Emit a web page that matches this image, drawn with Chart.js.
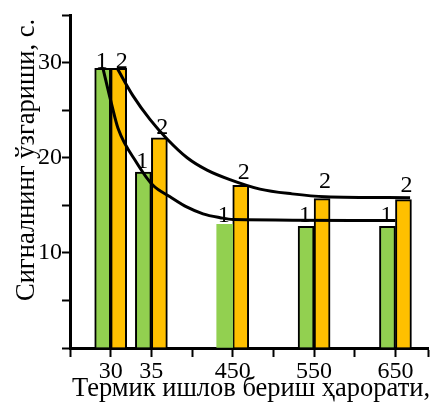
<!DOCTYPE html>
<html>
<head>
<meta charset="utf-8">
<script src="https://cdn.jsdelivr.net/npm/chart.js@4.4.1/dist/chart.umd.min.js"></script>
<style>
  html, body { margin: 0; padding: 0; background: #fff; }
  #wrap { width: 430px; height: 402px; }
</style>
</head>
<body>
<div id="wrap"><canvas id="chart" width="430" height="402"></canvas></div>
<script>
// температура (x ўқидаги жойи билан)
const categories = ['30', '35', '450', '550', '650'];
const categoryPos = [1, 2, 4, 6, 8];

// сигнал ўзгариши, с.
const seriesNames = ['1', '2'];
const series1 = [29.4, 18.5, 13.0, 12.8, 12.8];
const series2 = [29.4, 22.1, 17.1, 15.7, 15.6];

// тренд эгри чизиқлари
const curve1X = [0.81, 1.03, 1.18, 1.65, 2.04, 2.46, 2.88, 3.27, 3.69, 4.01, 8.0];
const curve1Y = [29.4, 25.5, 23.1, 19.4, 17.1, 15.9, 14.8, 14.1, 13.7, 13.5, 13.4];
const curve2X = [1.16, 1.55, 1.97, 2.38, 2.88, 3.37, 3.93, 4.67, 5.46, 6.27, 8.36];
const curve2Y = [29.4, 26.5, 24.0, 22.0, 20.0, 18.7, 17.7, 16.7, 16.2, 15.9, 15.8];

const yTickLabels = [10, 20, 30];
const xTitle = 'Термик ишлов бериш ҳарорати,';
const yTitle = 'Сигналнинг ўзгариши, с.';

const FONT = '"Liberation Serif", "Times New Roman", serif';
const GREEN = '#92D050';
const ORANGE = '#FFC000';

// рақамлар устунлар устида қанча кўтарилади (px)
const labelLift = [[0, 4, 2, 4, 4], [0, 4, 6, 11, 8]];
const labelShift = [-1, 3];

const toPoints = (xs, ys) => xs.map((x, i) => ({ x: x, y: ys[i] }));
const toBars = vals => vals.map((v, i) => ({ x: categoryPos[i], y: v }));

const annotate = {
    id: 'annotate',
    afterDatasetsDraw(chart) {
        const ctx = chart.ctx;
        ctx.save();
        ctx.fillStyle = '#000';
        ctx.font = '24px ' + FONT;
        ctx.textAlign = 'center';
        ctx.textBaseline = 'alphabetic';
        [2, 3].forEach((di, s) => {
            chart.getDatasetMeta(di).data.forEach((bar, i) => {
                ctx.fillText(seriesNames[s], bar.x + labelShift[s], bar.y - labelLift[s][i]);
            });
        });
        ctx.restore();
    },
    afterDraw(chart) {
        const ctx = chart.ctx;
        const area = chart.chartArea;
        ctx.save();
        ctx.fillStyle = '#000';
        ctx.font = '26.5px ' + FONT;
        ctx.textBaseline = 'alphabetic';
        ctx.textAlign = 'left';
        ctx.fillText(xTitle, area.left + 2, 396);
        ctx.translate(34, 301);
        ctx.rotate(-Math.PI / 2);
        ctx.fillText(yTitle, 0, 0);
        ctx.restore();
    }
};

const lineStyle = {
    type: 'line',
    borderColor: '#000',
    borderWidth: 3,
    pointRadius: 0,
    fill: false,
    cubicInterpolationMode: 'monotone',
    order: 0
};

new Chart(document.getElementById('chart'), {
    type: 'bar',
    data: {
        datasets: [
            Object.assign({ data: toPoints(curve1X, curve1Y) }, lineStyle),
            Object.assign({ data: toPoints(curve2X, curve2Y) }, lineStyle),
            {
                label: seriesNames[0],
                data: toBars(series1),
                backgroundColor: GREEN,
                borderColor: '#000',
                borderWidth: [2, 2, 0, 2, 2],
                barThickness: 16,
                order: 1
            },
            {
                label: seriesNames[1],
                data: toBars(series2),
                backgroundColor: ORANGE,
                borderColor: '#000',
                borderWidth: 2,
                barThickness: 16,
                order: 1
            }
        ]
    },
    options: {
        responsive: false,
        devicePixelRatio: 1,
        animation: false,
        layout: { padding: { top: 15, right: 2, left: 0, bottom: 0 } },
        plugins: {
            legend: { display: false },
            tooltip: { enabled: false }
        },
        scales: {
            x: {
                type: 'linear',
                min: 0,
                max: 8.8,
                offset: false,
                afterBuildTicks(scale) {
                    const ticks = [];
                    for (let v = 0; v <= 8; v++) ticks.push({ value: v });
                    ticks.push({ value: scale.max });
                    scale.ticks = ticks;
                },
                ticks: {
                    autoSkip: false,
                    maxRotation: 0,
                    padding: 0,
                    color: '#000',
                    font: { family: FONT, size: 24 },
                    callback: v => {
                        const i = categoryPos.indexOf(v);
                        return i >= 0 ? categories[i] : '';
                    }
                },
                grid: {
                    offset: false,
                    drawOnChartArea: false,
                    drawTicks: true,
                    tickLength: 9,
                    tickWidth: 2,
                    tickColor: '#000'
                },
                border: { display: true, color: '#000', width: 3 },
                afterFit(scale) { scale.height = 54; }
            },
            y: {
                min: 0,
                max: 35,
                ticks: {
                    stepSize: 5,
                    padding: 0,
                    color: '#000',
                    font: { family: FONT, size: 24 },
                    callback: v => yTickLabels.includes(v) ? String(v) : ''
                },
                grid: {
                    drawOnChartArea: false,
                    drawTicks: true,
                    tickLength: 8,
                    tickWidth: 2,
                    tickColor: '#000'
                },
                border: { display: true, color: '#000', width: 3 },
                afterFit(scale) { scale.width = 70; }
            }
        }
    },
    plugins: [annotate]
});
</script>
</body>
</html>
